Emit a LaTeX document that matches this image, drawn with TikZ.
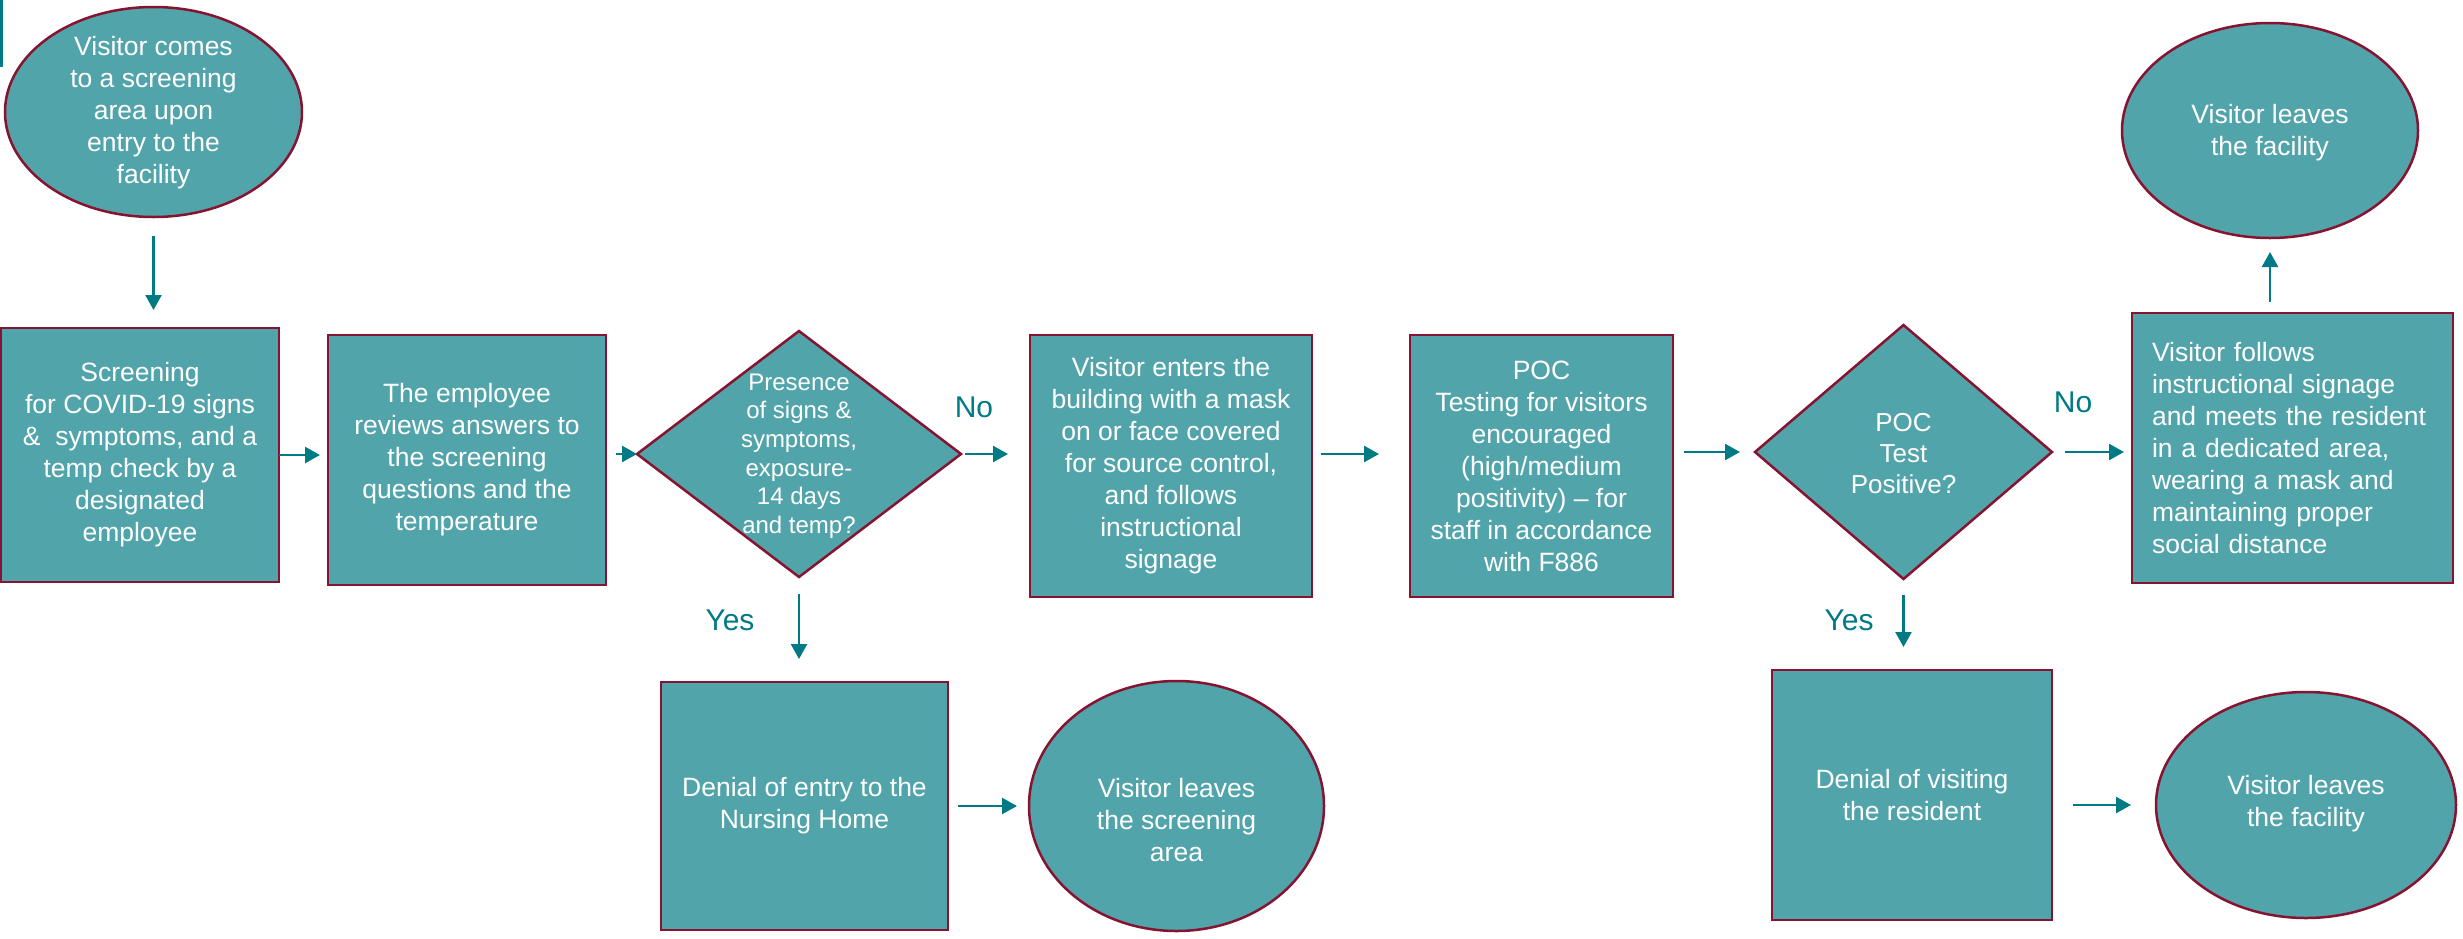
\documentclass[tikz,border=0pt]{standalone}
\usepackage{fontspec}
\setmainfont{Liberation Sans}
\usetikzlibrary{shapes.geometric,arrows.meta,calc}
\definecolor{fillteal}{RGB}{82,164,171}
\definecolor{edgered}{RGB}{134,19,48}
\definecolor{arrteal}{RGB}{0,122,132}
\begin{document}
\begin{tikzpicture}[x=1pt,y=-1pt,
  every node/.style={inner sep=0pt, outer sep=0pt},
  boxnode/.style={rectangle, draw=edgered, fill=fillteal, line width=2.5pt, text=white, align=center, font=\fontsize{26.5}{32}\selectfont},
  ellnode/.style={ellipse, draw=edgered, fill=fillteal, line width=2.5pt},
  dianode/.style={diamond, draw=edgered, fill=fillteal, line width=2.5pt},
  intext/.style={text=white, align=center, font=\fontsize{26.5}{32}\selectfont},
  lbl/.style={text=arrteal, font=\fontsize{30}{36}\selectfont},
  arr/.style={draw=arrteal, line width=2.5pt, -{Triangle[length=15pt,width=16pt]}},
]
\useasboundingbox (0,0) rectangle (2463,938);
\fill[white] (0,0) rectangle (2463,938);
\draw[arrteal, line width=3pt] (1.5,0) -- (1.5,67);

% nodes
\node[ellnode, minimum width=297pt, minimum height=210pt] (e1) at (153.5,112) {};
\node[intext] (t1) at (153.5,113) {Visitor comes\\to a screening\\area upon\\entry to the\\facility};

\node[boxnode, minimum width=278pt, minimum height=254pt] (b1) at (140,455)
  {Screening\\ for COVID-19 signs\\\&\ \ symptoms, and a\\temp check by a\\designated\\employee};
\node[boxnode, minimum width=278pt, minimum height=250pt] (b2) at (467,460)
  {The employee\\reviews answers to\\the screening\\questions and the\\temperature};

\node[dianode, minimum width=324pt, minimum height=246pt] (d1) at (799,454) {};
\node[intext, font=\fontsize{24}{28.7}\selectfont] (t2) at (799,456)
  {Presence\\of signs \&\\symptoms,\\exposure-\\14 days\\and temp?};

\node[boxnode, minimum width=282pt, minimum height=262pt] (b3) at (1171,466)
  {Visitor enters the\\building with a mask\\on or face covered\\for source control,\\and follows\\instructional\\signage};
\node[boxnode, minimum width=263pt, minimum height=262pt] (b4) at (1541.5,466)
  {POC\\Testing for visitors\\encouraged\\(high/medium\\positivity) -- for\\staff in accordance\\with F886};

\node[dianode, minimum width=297pt, minimum height=254pt] (d2) at (1903.5,452) {};
\node[intext, font=\fontsize{26}{31}\selectfont] (t3) at (1903.5,454) {POC\\Test\\Positive?};

\node[rectangle, draw=edgered, fill=fillteal, line width=2.5pt, text=white,
  align=left, text width=281pt, minimum width=321pt, minimum height=270pt,
  font=\fontsize{26.5}{32}\selectfont] (b5) at (2292.5,448)
  {Visitor follows\\instructional signage\\and meets the resident\\in a dedicated area,\\wearing a mask and\\maintaining proper\\social distance};

\node[ellnode, minimum width=296pt, minimum height=215pt] (e2) at (2270,130.5) {};
\node[intext] (t4) at (2270,133) {Visitor leaves\\the facility};

\node[boxnode, minimum width=287pt, minimum height=248pt] (b6) at (804.5,806)
  {Denial of entry to the\\Nursing Home};
\node[ellnode, minimum width=295pt, minimum height=250pt] (e3) at (1176.5,806) {};
\node[intext] (t5) at (1176.5,820) {Visitor leaves\\the screening\\area};

\node[boxnode, minimum width=280pt, minimum height=250pt] (b7) at (1912,795)
  {Denial of visiting\\the resident};
\node[ellnode, minimum width=300pt, minimum height=226pt] (e4) at (2306,805) {};
\node[intext] (t6) at (2306,804) {Visitor leaves\\the facility};

% labels
\node[lbl] (no1) at (974,407) {No};
\node[lbl] (no2) at (2073,402) {No};
\node[lbl] (yes1) at (730,620) {Yes};
\node[lbl] (yes2) at (1849,620) {Yes};

% connectors
\draw[arr, shorten <=19pt, shorten >=18pt] (e1.south) -- (e1.south |- b1.north);
\draw[arr, shorten >=8pt] (b1.east) -- (b1.east -| b2.west);
\draw[arr, shorten <=10pt] (d1.west -| b2.east) -- (d1.west);
\draw[arr, shorten <=4pt, shorten >=22pt] (d1.east) -- (d1.east -| b3.west);
\draw[arr, shorten <=9pt, shorten >=31pt] (b3.east |- d1.east) -- (b4.west |- d1.east);
\draw[arr, shorten <=11pt, shorten >=15pt] (b4.east |- d2.west) -- (d2.west);
\draw[arr, shorten <=13pt, shorten >=8pt] (d2.east) -- (d2.east -| b5.west);
\draw[arr, shorten <=11pt, shorten >=14pt] (e2.south |- b5.north) -- (e2.south);
\draw[arr, shorten <=17pt, shorten >=23pt] (d1.south) -- (d1.south |- b6.north);
\draw[arr, shorten <=16pt, shorten >=23pt] (d2.south) -- (d2.south |- b7.north);
\draw[arr, shorten <=10pt, shorten >=12pt] (b6.east) -- (b6.east -| e3.west);
\draw[arr, shorten <=21pt, shorten >=25pt] (b7.east |- e4.west) -- (e4.west);
\end{tikzpicture}
\end{document}
